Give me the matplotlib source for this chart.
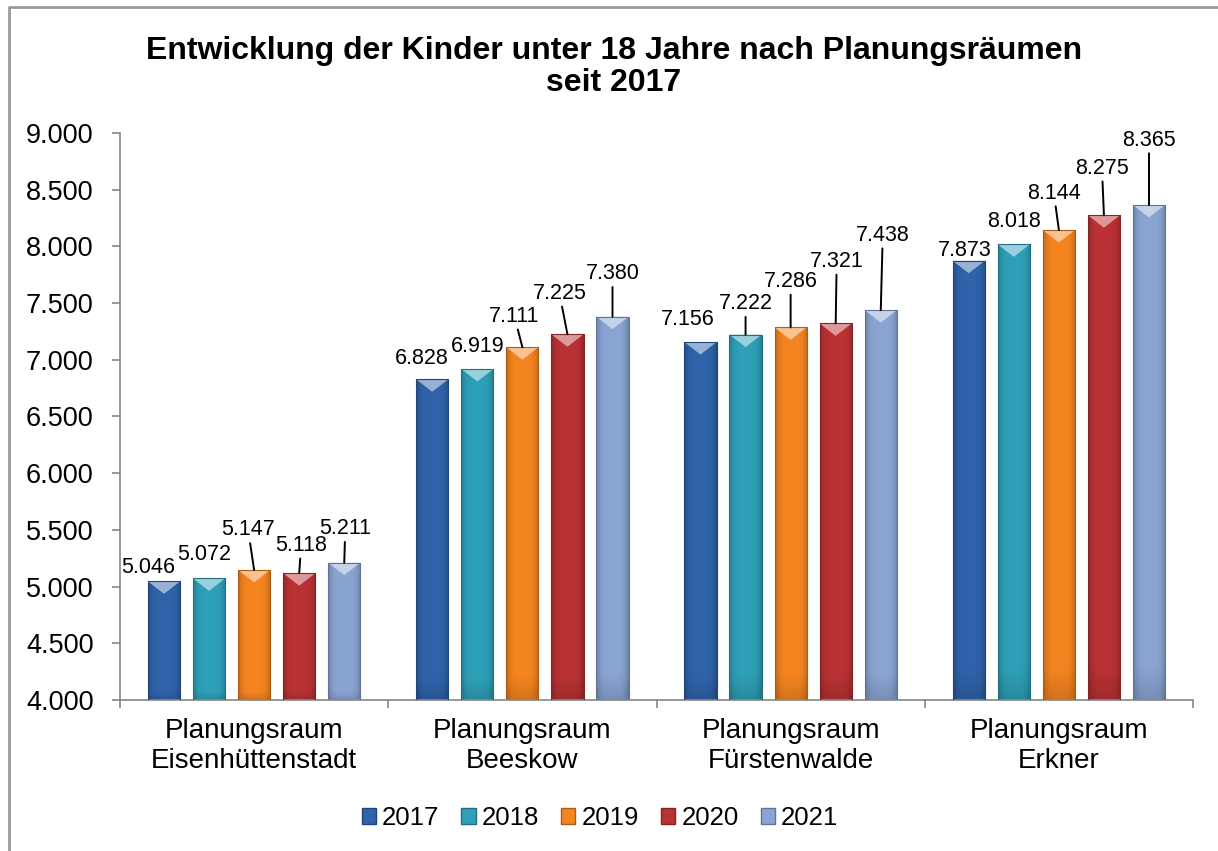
import numpy as np
import matplotlib.pyplot as plt
from matplotlib.patches import Polygon, Patch
from matplotlib.lines import Line2D
from matplotlib.colors import to_rgb

plt.rcParams['font.family'] = ['Liberation Sans', 'DejaVu Sans']

# Daten
regions = ['Planungsraum\nEisenhüttenstadt', 'Planungsraum\nBeeskow',
           'Planungsraum\nFürstenwalde', 'Planungsraum\nErkner']
years = ['2017', '2018', '2019', '2020', '2021']
kids_2017 = [5046, 6828, 7156, 7873]
kids_2018 = [5072, 6919, 7222, 8018]
kids_2019 = [5147, 7111, 7286, 8144]
kids_2020 = [5118, 7225, 7321, 8275]
kids_2021 = [5211, 7380, 7438, 8365]
series = [kids_2017, kids_2018, kids_2019, kids_2020, kids_2021]

colors = ['#2f63aa', '#2ea0b8', '#f58520', '#ba3234', '#8aa5d4']

# label offsets in pixels (dx, dy) per year / region
label_offsets = [
    [(-16, 14), (-10, 21), (-13, 23), (-4, 10)],
    [(-5, 24), (0, 22), (0, 31), (0, 23)],
    [(-6, 40), (-8, 31), (0, 46), (-5, 37)],
    [(2, 28), (-8, 41), (1, 62), (-2, 47)],
    [(1, 34), (0, 43), (2, 75), (0, 65)],
]

fig = plt.figure(figsize=(12.18, 8.51), dpi=100)
ax = fig.add_axes([120 / 1218, 1 - 700 / 851, (1193 - 120) / 1218, (700 - 133) / 851])

ymin, ymax = 4000, 9000
bar_w = 0.12
pitch = 0.168
bevel = 110
x = np.arange(len(regions))


def shade(c, f):
    r = np.array(to_rgb(c))
    if f >= 1:
        return tuple(r + (1 - r) * (f - 1))
    return tuple(r * f)


# gradient template
gx = np.linspace(0, 1, 40)
gy = np.linspace(0, 1, 60)
hfac = 1 - 0.22 * np.abs(2 * gx - 1) ** 4
vfac = 1 - 0.12 * np.clip(1 - gy / 0.06, 0, 1)
fac = vfac[:, None] * hfac[None, :]

for j, (vals, c) in enumerate(zip(series, colors)):
    xpos = x + (j - 2) * pitch
    bars = ax.bar(xpos, vals, bar_w, facecolor='none', edgecolor=shade(c, 0.7),
                  linewidth=0.8, zorder=3)
    base = np.array(to_rgb(c))
    img = np.clip(fac[:, :, None] * base[None, None, :], 0, 1)
    for k, p in enumerate(bars):
        x0, w, top = p.get_x(), p.get_width(), p.get_height()
        im = ax.imshow(img, extent=(x0, x0 + w, ymin, top), origin='lower',
                       aspect='auto', zorder=2, interpolation='bilinear')
        im.set_clip_path(p)
        tri = Polygon([(x0, top), (x0 + w, top), (x0 + w / 2, top - bevel)],
                      closed=True, facecolor=shade(c, 1.5), edgecolor='none',
                      zorder=2.5)
        ax.add_patch(tri)
        dx, dy = label_offsets[j][k]
        lbl = f"{vals[k]:,}".replace(',', '.')
        arrow = dict(arrowstyle='-', color='black', lw=1.4, shrinkA=0, shrinkB=0) if dy >= 26 else None
        ax.annotate(lbl, xy=(x0 + w / 2, top), xytext=(dx, dy), textcoords='offset pixels',
                    ha='center', va='center', fontsize=15.5, color='black',
                    arrowprops=arrow, zorder=5)

ax.set_xlim(-0.5, len(regions) - 0.5)
ax.set_ylim(ymin, ymax)

yt = np.arange(4000, 9001, 500)
ax.set_yticks(yt)
ax.set_yticklabels([f"{v:,}".replace(',', '.') for v in yt], fontsize=19.5)
ax.tick_params(axis='y', direction='out', length=6, width=1.2, color='#868686', pad=13)

ax.set_xticks(np.arange(-0.5, len(regions), 1.0))
ax.set_xticklabels([])
ax.set_xticks(x, minor=True)
ax.set_xticklabels(regions, minor=True, fontsize=20, linespacing=1.22)
ax.tick_params(axis='x', which='major', direction='out', length=6, width=1.2, color='#868686')
ax.tick_params(axis='x', which='minor', length=0, pad=13)

for s in ['top', 'right']:
    ax.spines[s].set_visible(False)
for s in ['left', 'bottom']:
    ax.spines[s].set_color('#868686')
    ax.spines[s].set_linewidth(1.2)

fig.text(614 / 1218, 1 - 67 / 851,
         'Entwicklung der Kinder unter 18 Jahre nach Planungsräumen\nseit 2017',
         ha='center', va='center', fontsize=23, fontweight='bold', linespacing=1.05)

handles = [Patch(facecolor=c, edgecolor=shade(c, 0.7)) for c in colors]
fig.legend(handles, years, loc='center', bbox_to_anchor=(600 / 1218, 1 - 818 / 851),
           ncol=5, frameon=False, fontsize=18.5, handlelength=0.55, handleheight=0.55,
           handletextpad=0.25, columnspacing=0.85)

# outer chart frame
fig.add_artist(Line2D([9 / 1218, 9 / 1218, 1.0], [0, 1 - 7 / 851, 1 - 7 / 851],
                      transform=fig.transFigure, color='#9a9a9a', lw=2))

fig.savefig('out.png', dpi=100)
